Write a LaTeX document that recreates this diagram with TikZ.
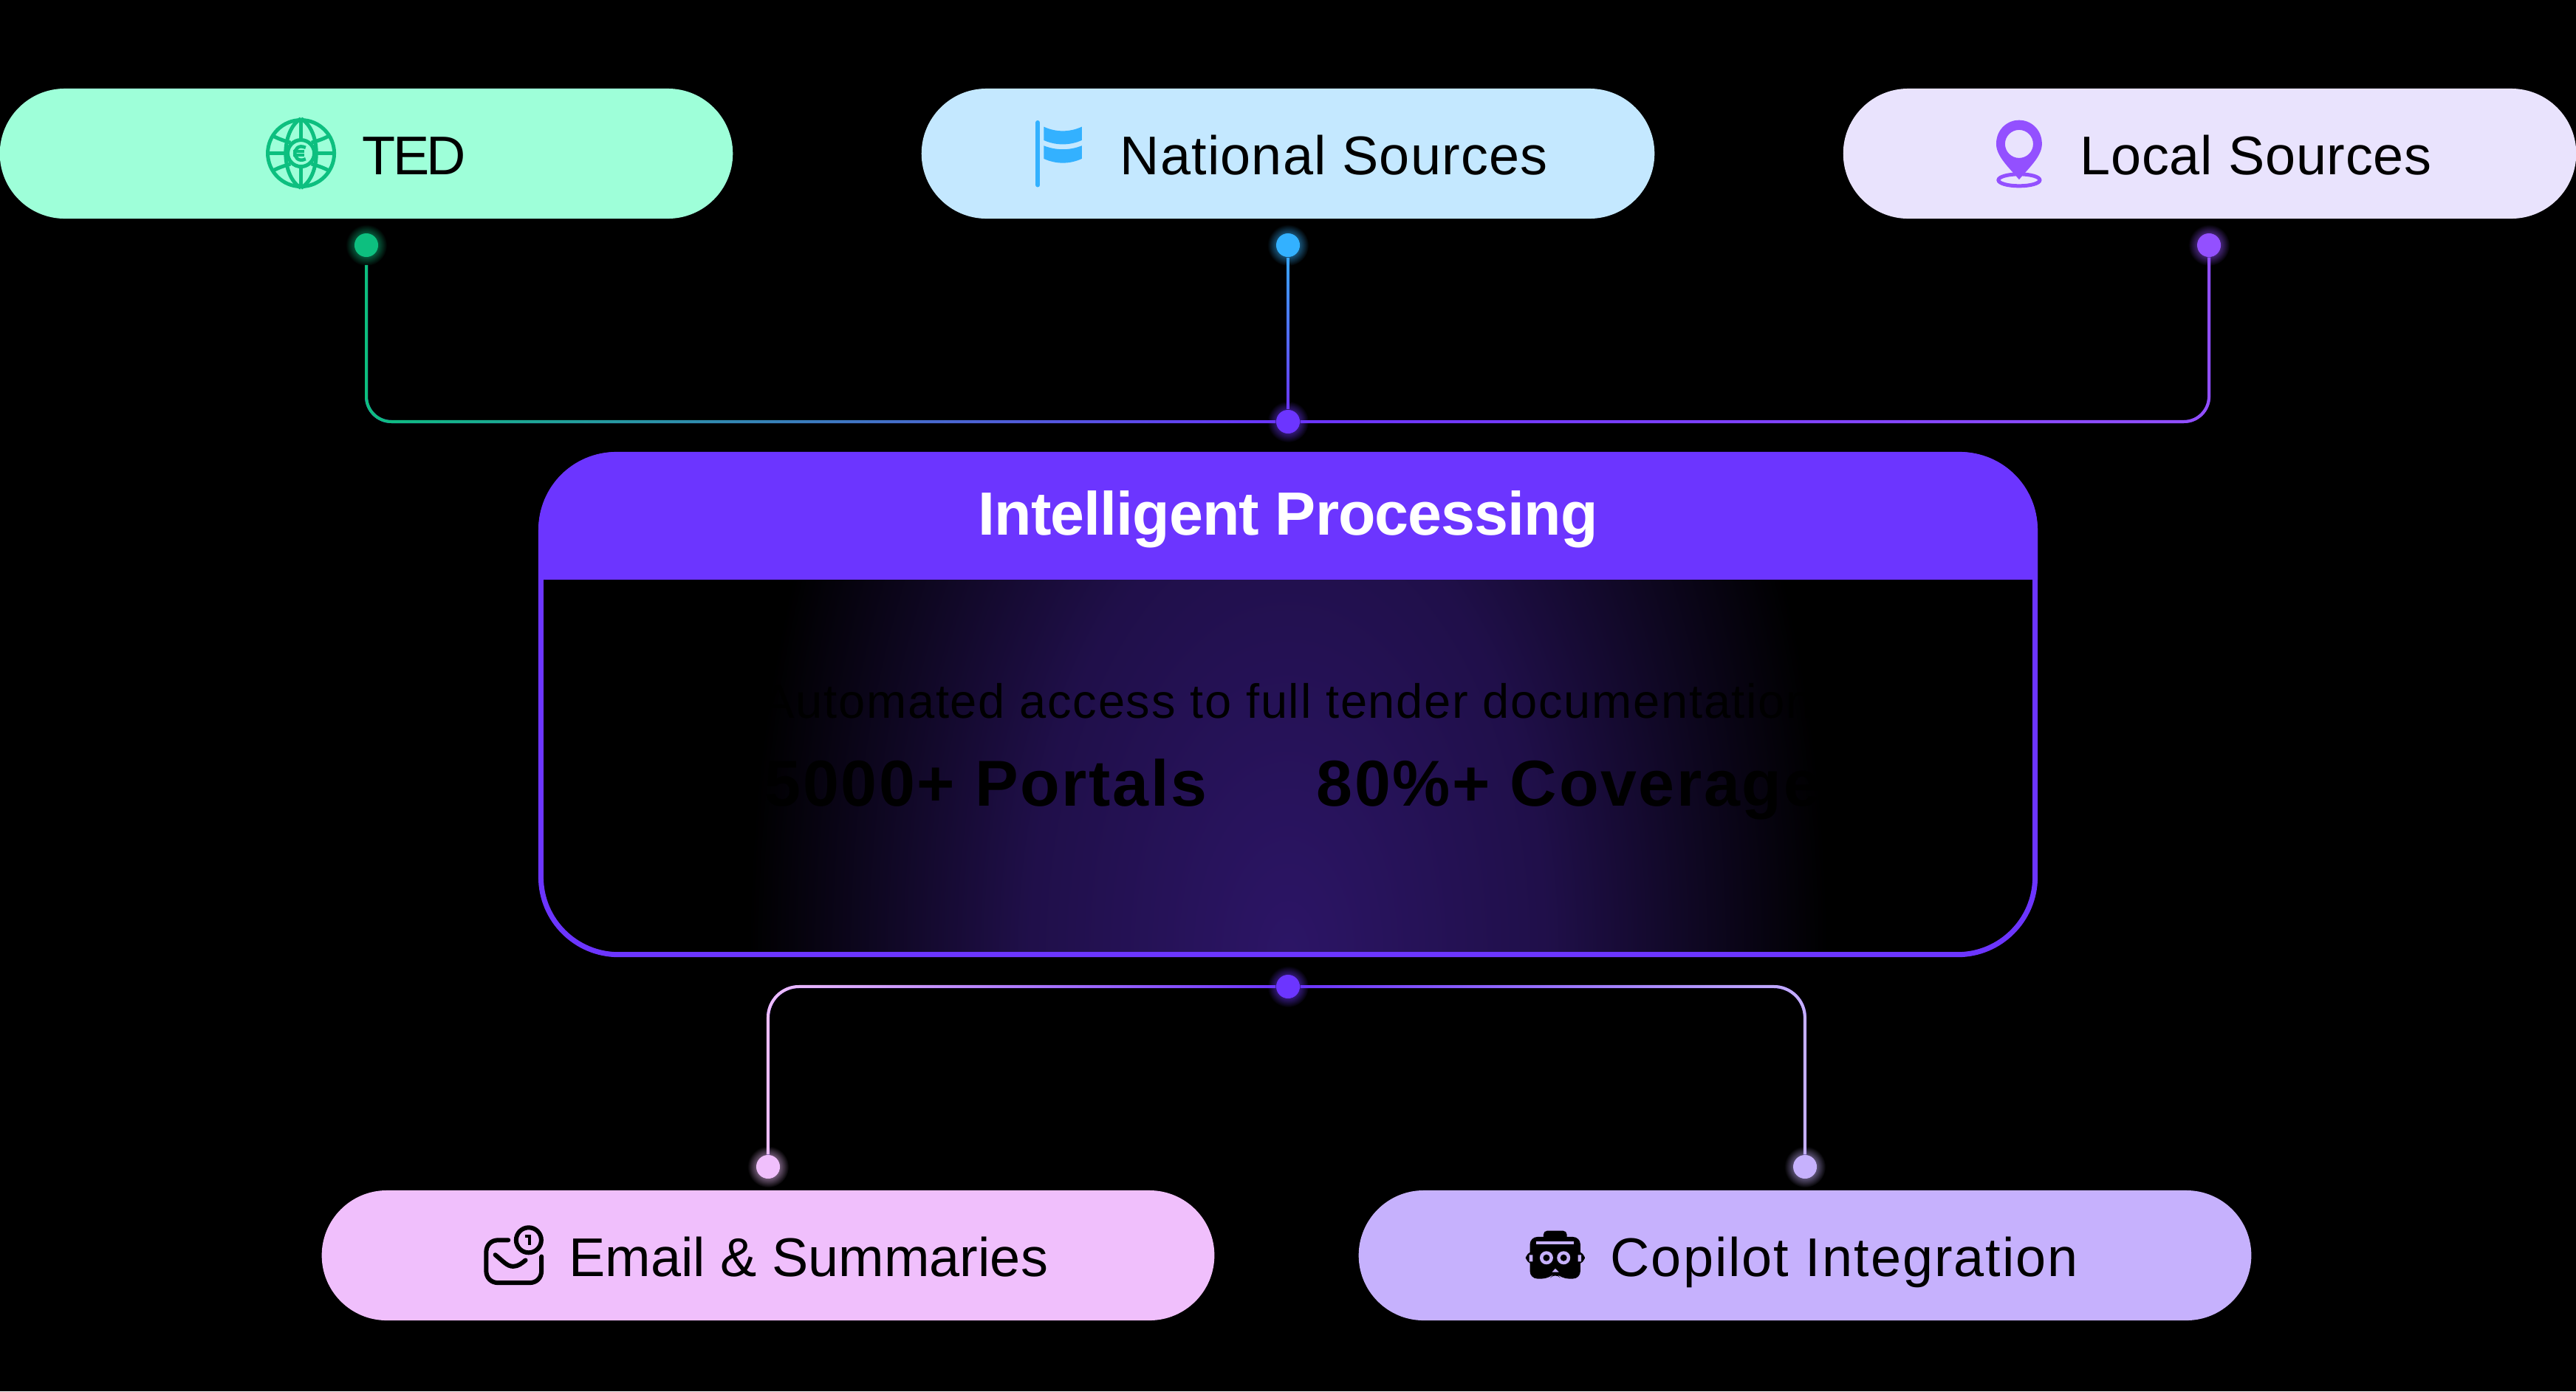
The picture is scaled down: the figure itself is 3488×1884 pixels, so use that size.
\documentclass[tikz,border=0pt]{standalone}
\usepackage{fontspec}
\setmainfont{Liberation Sans}
\usepackage{tikz}
\usetikzlibrary{fadings}
\definecolor{tedpill}{HTML}{9EFFD9}
\definecolor{natpill}{HTML}{C4E8FF}
\definecolor{locpill}{HTML}{E9E3FD}
\definecolor{mailpill}{HTML}{F0BFFC}
\definecolor{copipill}{HTML}{C6B1FD}
\definecolor{tedgreen}{HTML}{0DBF7F}
\definecolor{natblue}{HTML}{33B1FF}
\definecolor{locviolet}{HTML}{9350FF}
\definecolor{mainviolet}{HTML}{6C35FF}
\definecolor{glowviolet}{HTML}{2C1566}
\colorlet{halocol}{black}
\pgfdeclareradialshading{boxglow}{\pgfpointorigin}{color(0bp)=(glowviolet); color(12bp)=(glowviolet!72!black); color(25bp)=(black); color(50bp)=(black)}
\pgfdeclareradialshading[halocol]{dothalo}{\pgfpointorigin}{color(0bp)=(halocol); color(13bp)=(halocol); color(25bp)=(black); color(50bp)=(black)}
\tikzfading[name=wirefadex, left color=transparent!0, right color=transparent!100]
\tikzfading[name=wirefadexr, left color=transparent!100, right color=transparent!0]
\tikzfading[name=wirefadey, top color=transparent!0, bottom color=transparent!100]
\tikzset{
    Pill/.style = {rectangle, rounded corners=0.88cm, minimum width=9.92cm, minimum height=1.76cm, inner sep=0pt},
    Label/.style = {anchor=base west, inner sep=0pt, text=black, font=\fontsize{21}{25}\selectfont},
    Dot/.style = {circle, minimum size=0.32cm, inner sep=0pt},
    Wire/.style = {line width=0.04cm, rounded corners=0.34cm},
    Wirelow/.style = {line width=0.04cm, rounded corners=0.42cm},
    Stat/.style = {anchor=base west, inner sep=0pt, text=black, font=\fontsize{25}{29}\selectfont\bfseries}
}
\begin{document}
\begin{tikzpicture}[x=0.01cm,y=-0.01cm]
\fill[black] (0,0) rectangle (3488,1884);
\useasboundingbox (0,0) rectangle (3488,1884);
% connection dots with their halo
\foreach \name/\px/\py/\col in {dted/496/332/tedgreen, dnat/1744/332/natblue, dloc/2991/332/locviolet, hubtop/1744/571/mainviolet, hubbot/1744/1336/mainviolet, dmail/1040/1580/mailpill, dcopi/2444/1580/copipill} {
    \colorlet{halocol}{\col!50!black}
    \shade[shading=dothalo] (\px,\py) circle (0.28cm);
    \node[Dot, fill=\col] at (\px,\py) (\name) {};
}
% pills
\node[Pill, fill=tedpill] at (496,208) (ted) {};
\node[Pill, fill=natpill] at (1744,208) (nat) {};
\node[Pill, fill=locpill] at (2992,208) (loc) {};
\node[Pill, minimum width=12.08cm, fill=mailpill] at (1040,1700) (mail) {};
\node[Pill, minimum width=12.08cm, fill=copipill] at (2444,1700) (copi) {};
\node[Label] at (490,236) (tedtxt) {\addfontfeature{LetterSpace=-5}TED};
\node[Label] at (1516,236) (nattxt) {\addfontfeature{LetterSpace=1.6}National Sources};
\node[Label] at (2816,236) (loctxt) {\addfontfeature{LetterSpace=1}Local Sources};
\node[Label] at (770,1728) (mailtxt) {Email \& Summaries};
\node[Label] at (2180,1728) (copitxt) {\addfontfeature{LetterSpace=2.7}Copilot Integration};
% main box
\begin{scope}
\clip[rounded corners=1.05cm] (733,615) rectangle (2755,1293);
\shade[shading=boxglow] (1744,1296) ellipse (7.3cm and 13cm);
\end{scope}
\node[rectangle, draw=mainviolet, line width=0.07cm, rounded corners=1.05cm, minimum width=20.22cm, minimum height=6.77cm, inner sep=0pt] at (1744,954) (box) {};
\begin{scope}
\clip (700,600) rectangle (2800,784);
\fill[mainviolet, rounded corners=1.05cm] (729,612) rectangle (2759,1000);
\end{scope}
\node[anchor=base, inner sep=0pt, text=white, font=\fontsize{23.5}{28}\selectfont\bfseries] at (1744,724) (title) {\addfontfeature{LetterSpace=-1.2}Intelligent Processing};
\node[anchor=base, inner sep=0pt, text=black, font=\fontsize{18.5}{22}\selectfont] at (1744,972) (desc) {\addfontfeature{LetterSpace=2.6}Automated access to full tender documentation};
\node[Stat] at (1035,1091) (portals) {\addfontfeature{LetterSpace=3}5000+ Portals};
\node[Stat] at (1782,1091) (cover) {\addfontfeature{LetterSpace=3}80\%+ Coverage};
% wires, top
\coordinate (tedstart) at (496,359);
\draw[Wire, draw=mainviolet] (tedstart) |- (hubtop);
\draw[Wire, draw=tedgreen, path fading=wirefadex] (tedstart) |- (hubtop);
\draw[Wire, draw=mainviolet] (dnat) -- (hubtop);
\draw[Wire, draw=natblue, path fading=wirefadey] (dnat.west) (dnat.east) (dnat) -- (hubtop);
\draw[Wire, draw=mainviolet] (dloc) |- (hubtop);
\draw[Wire, draw=locviolet, path fading=wirefadexr] (dloc) |- (hubtop);
% wires, bottom
\draw[Wirelow, draw=mainviolet] (dmail) |- (hubbot);
\draw[Wirelow, draw=mailpill, path fading=wirefadex] (dmail) |- (hubbot);
\draw[Wirelow, draw=mainviolet] (dcopi) |- (hubbot);
\draw[Wirelow, draw=copipill, path fading=wirefadexr] (dcopi) |- (hubbot);
% globe icon
\begin{scope}[shift={(340,140)},x=0.00333cm,y=-0.00333cm,draw=tedgreen,line width=0.05cm]
\draw (203,203) circle (0.45cm);
\draw (203,203) circle (0.18cm);
\draw (203,62) -- (203,148) (203,258) -- (203,344) (62,203) -- (148,203) (258,203) -- (344,203);
\draw (203,62) .. controls (120,110) and (120,296) .. (203,344);
\draw (203,62) .. controls (286,110) and (286,296) .. (203,344);
\draw (85,130) .. controls (120,150) and (150,155) .. (160,160) (246,160) .. controls (256,155) and (286,150) .. (321,130);
\draw (85,276) .. controls (120,256) and (150,251) .. (160,246) (246,246) .. controls (256,251) and (286,256) .. (321,276);
\draw[line width=0.045cm] (222,180) .. controls (190,165) and (178,190) .. (178,203) .. controls (178,216) and (190,241) .. (222,226);
\draw[line width=0.035cm] (170,196) -- (215,196) (170,210) -- (215,210);
\end{scope}
% flag icon
\begin{scope}[shift={(1380,140)},x=0.00333cm,y=-0.00333cm]
\draw[natblue, line width=0.06cm, line cap=round] (76,78) -- (76,332);
\fill[natblue] (100,95) .. controls (150,118) and (205,118) .. (255,95) -- (255,150) .. controls (205,172) and (150,172) .. (100,150) -- cycle;
\fill[natblue] (100,172) .. controls (150,192) and (205,192) .. (255,172) -- (255,225) .. controls (205,248) and (150,248) .. (100,225) -- cycle;
\end{scope}
% pin icon
\begin{scope}[shift={(2670,140)},x=0.00333cm,y=-0.00333cm]
\draw[locviolet, line width=0.05cm] (192,312) ellipse (0.28cm and 0.08cm);
\fill[locviolet, even odd rule] (192,310) .. controls (150,260) and (99,215) .. (99,165) .. controls (99,105) and (145,68) .. (192,68) .. controls (239,68) and (285,105) .. (285,165) .. controls (285,215) and (234,260) .. (192,310) -- cycle (192,165) circle (0.19cm);
\end{scope}
% mail icon
\begin{scope}[shift={(640,1640)},x=0.00333cm,y=-0.00333cm,line width=0.06cm,line cap=round]
\draw (145,118) -- (105,118) .. controls (75,118) and (55,138) .. (55,168) -- (55,242) .. controls (55,272) and (75,292) .. (105,292) -- (230,292) .. controls (260,292) and (280,272) .. (280,242) -- (280,185);
\draw (92,178) .. controls (125,205) and (140,225) .. (165,225) .. controls (185,225) and (200,212) .. (215,200);
\draw (228,118) circle (0.17cm);
\draw[line width=0.045cm, line cap=butt] (212,102) -- (232,102) -- (232,138);
\end{scope}
% copilot icon
\begin{scope}[shift={(2040,1640)},x=0.00333cm,y=-0.00333cm]
\fill[black, rounded corners=0.05cm] (150,80) rectangle (245,130);
\fill[black, rounded corners=0.1cm] (78,165) rectangle (318,215);
\fill[black, rounded corners=0.1cm] (95,105) -- (300,105) -- (300,275) -- (222,275) -- (198,250) -- (174,275) -- (95,275) -- cycle;
\fill[copipill] (120,122) rectangle (272,135);
\fill[copipill] (92,178) rectangle (106,205) (290,178) rectangle (304,205);
\fill[copipill] (185,248) -- (198,234) -- (212,248) -- cycle;
\fill[copipill] (162,190) circle (0.09cm) (232,190) circle (0.09cm);
\fill[black] (162,190) circle (0.045cm) (232,190) circle (0.045cm);
\end{scope}
\end{tikzpicture}
\end{document}
